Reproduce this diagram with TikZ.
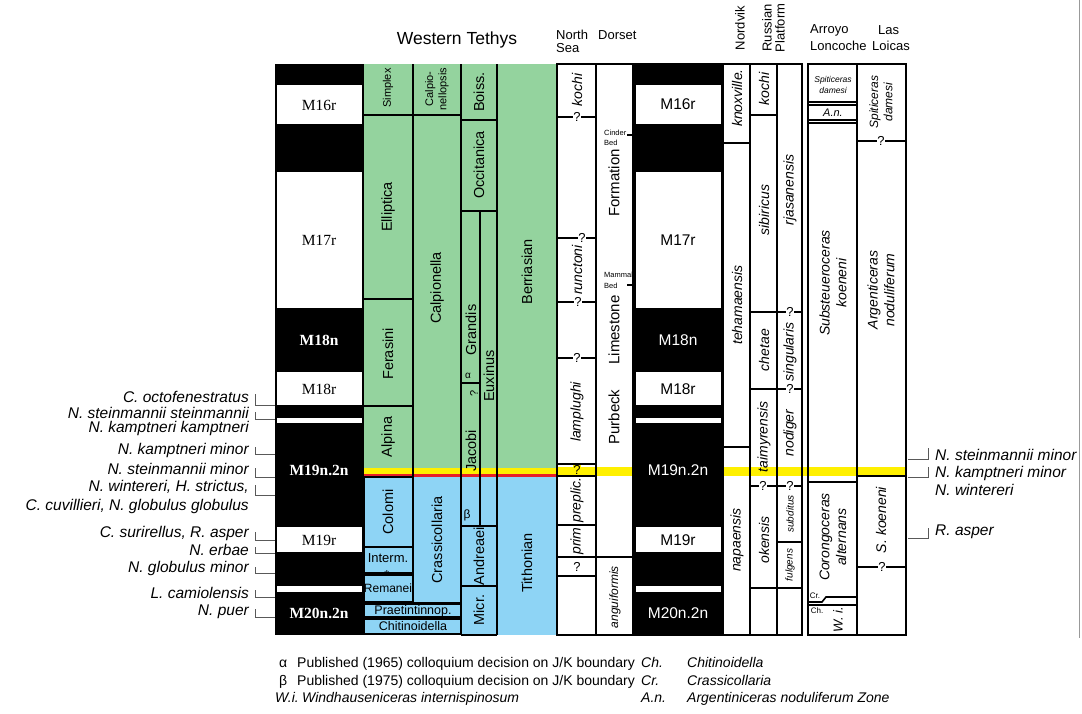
\documentclass[tikz,border=0pt]{standalone}
\usepackage{fontspec}
\setmainfont{Liberation Sans}
\newfontfamily\timesfont{Liberation Serif}
\usetikzlibrary{positioning}

\definecolor{tethysgreen}{RGB}{148,211,158}
\definecolor{tethysblue}{RGB}{142,212,245}
\definecolor{jkyellow}{RGB}{255,240,0}
\definecolor{jkred}{RGB}{232,32,40}

\newcommand{\fsz}[1]{\fontsize{#1}{\dimexpr #1pt*6/5\relax}\selectfont}

\tikzset{
	boxline/.style={line width=1.6pt},
	outline/.style={line width=2pt},
	brkt/.style={line width=0.8pt, black!65},
	zlab/.style={rotate=90, inner sep=0pt, align=center, font=\fsz{14.5}},
	amm/.style={rotate=90, inner sep=0pt, align=center, font=\fsz{14}\itshape},
	chron/.style={inner sep=0pt, font=\timesfont\fsz{15.5}},
	chronb/.style={inner sep=0pt, text=white, font=\timesfont\bfseries\fsz{15.5}},
	chrons/.style={inner sep=0pt, font=\fsz{15.5}},
	qm/.style={fill=white, inner sep=0.5pt, font=\fsz{13}},
	nanno/.style={inner sep=0pt, font=\fsz{15.5}\itshape},
	headtxt/.style={inner sep=0pt, font=\fsz{13}},
	legtxt/.style={inner sep=0pt, anchor=base west, font=\fsz{14}},
}

\begin{document}
\begin{tikzpicture}[x=1pt, y=-1pt]
	\useasboundingbox (0,0) rectangle (1082,713);
	% Fills:
	\fill[tethysgreen] (364,64) rectangle (557,468);
	\fill[tethysblue] (364,477) rectangle (557,635);
	\fill[jkyellow] (364,468) rectangle (557,474);
	\fill[jkred] (364,474) rectangle (557,477);
	\fill[jkyellow] (557,467) rectangle (633,476);
	\fill[jkyellow] (723,467) rectangle (906,476);
	\fill (275,64) rectangle (364,635);
	\fill (633,64) rectangle (723,635);
	\foreach \ya/\yb in {85/124, 172/308, 372/405, 418/423, 527/552, 586/592}{
		\fill[white] (277,\ya) rectangle (362,\yb);
		\fill[white] (636,\ya) rectangle (721,\yb);
	}
	% Western Tethys lines:
	\draw[boxline] (413,64) -- (413,603);
	\draw[boxline] (461,64) -- (461,635);
	\draw[boxline] (497,64) -- (497,635);
	\draw[boxline] (364,115) -- (461,115);
	\draw[boxline] (364,299) -- (413,299);
	\draw[boxline] (364,406) -- (413,406);
	\draw[boxline] (364,477) rectangle (413,547);
	\draw[boxline] (364,547) rectangle (413,573);
	\draw[boxline] (364,575) rectangle (413,602);
	\draw[boxline] (413,603) -- (461,603);
	\draw[boxline] (364,604) rectangle (461,617);
	\draw[boxline] (364,619) rectangle (461,634);
	\draw[boxline] (461,120) -- (497,120);
	\draw[boxline] (461,211) -- (497,211);
	\draw[boxline] (480,211) -- (480,526);
	\draw[boxline] (461,383) -- (480,383);
	\draw[boxline] (461,526) -- (497,526);
	\draw[boxline] (461,586) -- (497,586);
	\draw[boxline] (461,635) -- (497,635);
	% North Sea to Russian Platform:
	\draw[outline] (557,64) rectangle (802,635);
	\foreach \xa in {596, 633, 723, 750, 777}
		\draw[boxline] (\xa,64) -- (\xa,635);
	\foreach \ya in {117, 238, 302, 358, 464, 476, 525, 576}
		\draw[boxline] (557,\ya) -- (596,\ya);
	\draw[boxline] (557,557) -- (633,557);
	\draw[line width=2.2pt] (627,135) -- (633,135);
	\draw[line width=2.2pt] (627,285) -- (633,285);
	\draw[boxline] (723,143) -- (750,143);
	\draw[boxline] (723,447) -- (750,447);
	\draw[boxline] (750,115) -- (777,115);
	\draw[boxline] (750,312) -- (802,312);
	\draw[boxline] (750,389) -- (802,389);
	\draw[boxline] (750,486) -- (802,486);
	\draw[boxline] (777,542) -- (802,542);
	\draw[boxline] (750,588) -- (802,588);
	% Arroyo Loncoche and Las Loicas:
	\draw[outline] (808,64) rectangle (906,635);
	\draw[boxline] (857,64) -- (857,635);
	\draw[line width=1.2pt] (808,102) -- (857,102);
	\draw[line width=1.2pt] (808,105) -- (857,105);
	\draw[line width=1.2pt] (808,120) -- (857,120);
	\draw[line width=1.2pt] (808,123) -- (857,123);
	\draw[boxline] (808,482) -- (857,482);
	\draw[boxline] (857,597) -- (826,597) -- (822,602) -- (808,602);
	\draw[boxline] (808,605) -- (857,605);
	\draw[boxline] (857,141) -- (906,141);
	\draw[boxline] (857,476) -- (906,476);
	\draw[boxline] (857,567) -- (906,567);
	% Question marks:
	\node[qm] (q1) at (577,117) {?};
	\node[qm] (q2) at (582,238) {?};
	\node[qm] (q3) at (578,302) {?};
	\node[qm] (q4) at (577,358) {?};
	\node[qm, fill=jkyellow, inner sep=0pt] (q5) at (577,470) {?};
	\node[qm] (q6) at (577,567) {?};
	\node[qm] (q7) at (763,486) {?};
	\node[qm] (q8) at (790,312) {?};
	\node[qm] (q9) at (790,389) {?};
	\node[qm] (q10) at (790,486) {?};
	\node[qm] (q11) at (881,141) {?};
	\node[qm] (q12) at (882,567) {?};
	% Magnetic chrons:
	\node[chron] (mL16r) at (319,105) {M16r};
	\node[chron] (mL17r) at (319,240) {M17r};
	\node[chronb] (mL18n) at (319,340) {M18n};
	\node[chron] (mL18r) at (319,389) {M18r};
	\node[chronb] (mL19n) at (319,470) {M19n.2n};
	\node[chron] (mL19r) at (319,540) {M19r};
	\node[chronb] (mL20n) at (319,613) {M20n.2n};
	\node[chrons] (mR16r) at (678,104) {M16r};
	\node[chrons] (mR17r) at (678,240) {M17r};
	\node[chrons, text=white] (mR18n) at (678,340) {M18n};
	\node[chrons] (mR18r) at (678,389) {M18r};
	\node[chrons, text=white] (mR19n) at (678,470) {M19n.2n};
	\node[chrons] (mR19r) at (678,540) {M19r};
	\node[chrons, text=white] (mR20n) at (678,613) {M20n.2n};
	% Calpionellid zones:
	\node[zlab, font=\fsz{11}] (zSimplex) at (388,88) {Simplex};
	\node[zlab] (zElliptica) at (388,207) {Elliptica};
	\node[zlab] (zFerasini) at (388,354) {Ferasini};
	\node[zlab] (zAlpina) at (388,437) {Alpina};
	\node[zlab] (zColomi) at (388,512) {Colomi};
	\node[inner sep=0pt, font=\fsz{13}] (zInterm) at (388,558) {Interm.};
	\node[inner sep=0pt, font=\fsz{13}] (zStar) at (387,575) {*};
	\node[inner sep=0pt, font=\fsz{12}] (zRemanei) at (388,588) {Remanei};
	\node[zlab, font=\fsz{11}] (zCalpionellopsis) at (437,89) {Calpio-\\nellopsis};
	\node[zlab] (zCalpionella) at (437,288) {Calpionella};
	\node[zlab] (zCrassicollaria) at (437,540) {Crassicollaria};
	\node[inner sep=0pt, font=\fsz{12.5}] (zPraetintinnop) at (413,611) {Praetintinnop.};
	\node[inner sep=0pt, font=\fsz{12.5}] (zChitinoidella) at (413,626) {Chitinoidella};
	\node[zlab] (zBoiss) at (479,92) {Boiss.};
	\node[zlab] (zOccitanica) at (479,165) {Occitanica};
	\node[zlab] (zGrandis) at (471,330) {Grandis};
	\node[zlab] (zEuxinus) at (489,376) {Euxinus};
	\node[inner sep=0pt, font=\fsz{10}] (zAlpha) at (468,376) {α};
	\node[zlab, font=\fsz{11}] (zQuery) at (474,393) {?};
	\node[zlab] (zJacobi) at (471,451) {Jacobi};
	\node[inner sep=0pt, font=\fsz{12}] (zBeta) at (467,515) {β};
	\node[zlab] (zAndreaei) at (479,556) {Andreaei};
	\node[zlab] (zMicr) at (479,610) {Micr.};
	\node[zlab] (zBerriasian) at (527,272) {Berriasian};
	\node[zlab] (zTithonian) at (527,563) {Tithonian};
	% Dorset:
	\node[zlab, font=\fsz{15}] (dFormation) at (614,183) {Formation};
	\node[zlab, font=\fsz{15}] (dLimestone) at (614,330) {Limestone};
	\node[zlab, font=\fsz{15}] (dPurbeck) at (614,417) {Purbeck};
	\node[inner sep=0pt, anchor=west, font=\fsz{7.5}] (dCinder) at (604,133) {Cinder};
	\node[inner sep=0pt, anchor=west, font=\fsz{7.5}] (dCinderBed) at (604,143) {Bed};
	\node[inner sep=0pt, anchor=west, font=\fsz{7.5}] (dMammal) at (604,275) {Mammal};
	\node[inner sep=0pt, anchor=west, font=\fsz{7.5}] (dMammalBed) at (604,286) {Bed};
	\node[amm, font=\fsz{12}\itshape] (dAnguiformis) at (615,597) {anguiformis};
	% Boreal ammonite zones:
	\node[amm] (nKochi) at (577,90) {kochi};
	\node[amm] (nRunctoni) at (577,270) {runctoni};
	\node[amm] (nLamplughi) at (577,412) {lamplughi};
	\node[amm] (nPreplic) at (577,500) {preplic.};
	\node[amm] (nPrim) at (577,541) {prim};
	\node[amm] (vKnoxville) at (737,98) {knoxville.};
	\node[amm] (vTehamaensis) at (737,305) {tehamaensis};
	\node[amm] (vNapaensis) at (737,540) {napaensis};
	\node[amm] (rKochi) at (764,89) {kochi};
	\node[amm] (rSibiricus) at (764,210) {sibiricus};
	\node[amm] (rChetae) at (764,350) {chetae};
	\node[amm] (rTaimyrensis) at (764,437) {taimyrensis};
	\node[amm] (rOkensis) at (764,540) {okensis};
	\node[amm] (pRjasanensis) at (790,190) {rjasanensis};
	\node[amm] (pSingularis) at (790,352) {singularis};
	\node[amm] (pNodiger) at (790,433) {nodiger};
	\node[amm, font=\fsz{10}\itshape] (pSubditus) at (790,514) {subditus};
	\node[amm, font=\fsz{10}\itshape] (pFulgens) at (790,565) {fulgens};
	% Andean ammonite zones:
	\node[inner sep=0pt, align=center, font=\fsz{8.5}\itshape] (aSpiticeras) at (833,85) {Spiticeras\\damesi};
	\node[inner sep=0pt, font=\fsz{11}\itshape] (aAn) at (833,113) {A.n.};
	\node[amm] (aSubsteueroceras) at (833,283) {Substeueroceras\\koeneni};
	\node[amm] (aCorongoceras) at (833,537) {Corongoceras\\alternans};
	\node[inner sep=0pt, font=\fsz{8}] (aCr) at (815,596) {Cr.};
	\node[inner sep=0pt, font=\fsz{8}] (aCh) at (817,611) {Ch.};
	\node[amm, font=\fsz{13}\itshape] (aWi) at (838,620) {W. i.};
	\node[amm, font=\fsz{12}\itshape] (lSpiticeras) at (881,102) {Spiticeras\\damesi};
	\node[amm] (lArgenticeras) at (881,290) {Argenticeras\\noduliferum};
	\node[amm] (lKoeneni) at (881,520) {S. koeneni};
	% Headers:
	\node[inner sep=0pt, font=\fsz{17.5}] (hTethys) at (457,40) {Western Tethys};
	\node[headtxt, anchor=west] (hNorth) at (556,35) {North};
	\node[headtxt, anchor=west] (hSea) at (556,48) {Sea};
	\node[headtxt, anchor=west] (hDorset) at (598,35) {Dorset};
	\node[headtxt, rotate=90] (hNordvik) at (740,28) {Nordvik};
	\node[headtxt, rotate=90] (hRussian) at (767,28) {Russian};
	\node[headtxt, rotate=90] (hPlatform) at (780,28) {Platform};
	\node[headtxt, anchor=west] (hArroyo) at (810,30) {Arroyo};
	\node[headtxt, anchor=west] (hLoncoche) at (810,46) {Loncoche};
	\node[headtxt, anchor=west] (hLas) at (878,30) {Las};
	\node[headtxt, anchor=west] (hLoicas) at (872,46) {Loicas};
	% Nannofossil events:
	\foreach \ya/\yb in {394/405, 412/419, 447/454, 468/477, 485/495, 532/540, 547/553, 567/573, 590/597, 609/617}
		\draw[brkt] (255,\ya) |- (275,\yb);
	\foreach \ya/\yb in {448/459, 467/477, 528/538}
		\draw[brkt] (928,\ya) |- (908,\yb);
	\node[nanno, anchor=east] (e1) at (249,397) {C. octofenestratus};
	\node[nanno, anchor=east] (e2) at (249,413) {N. steinmannii steinmannii};
	\node[nanno, anchor=east] (e3) at (249,428) {N. kamptneri kamptneri};
	\node[nanno, anchor=east] (e4) at (249,450) {N. kamptneri minor};
	\node[nanno, anchor=east] (e5) at (249,469) {N. steinmannii minor};
	\node[nanno, anchor=east] (e6) at (249,487) {N. wintereri, H. strictus,};
	\node[nanno, anchor=east] (e7) at (249,506) {C. cuvillieri, N. globulus globulus};
	\node[nanno, anchor=east] (e8) at (249,533) {C. surirellus, R. asper};
	\node[nanno, anchor=east] (e9) at (249,550) {N. erbae};
	\node[nanno, anchor=east] (e10) at (249,568) {N. globulus minor};
	\node[nanno, anchor=east] (e11) at (249,593) {L. camiolensis};
	\node[nanno, anchor=east] (e12) at (249,612) {N. puer};
	\node[nanno, anchor=west] (e13) at (935,455) {N. steinmannii minor};
	\node[nanno, anchor=west] (e14) at (935,473) {N. kamptneri minor};
	\node[nanno, anchor=west] (e15) at (935,490) {N. wintereri};
	\node[nanno, anchor=west] (e16) at (935,532) {R. asper};
	\draw[black!40, line width=0.8pt] (1079,0) -- (1079,638);
	% Legend:
	\node[legtxt] (kAlpha) at (279,667) {α};
	\node[legtxt] (kAlphaTxt) at (297,667) {Published (1965) colloquium decision on J/K boundary};
	\node[legtxt] (kBeta) at (279,685) {β};
	\node[legtxt] (kBetaTxt) at (297,685) {Published (1975) colloquium decision on J/K boundary};
	\node[legtxt, font=\fsz{14}\itshape] (kWi) at (275,702) {W.i.};
	\node[legtxt, font=\fsz{14}\itshape] (kWiTxt) at (302,702) {Windhauseniceras internispinosum};
	\node[legtxt, font=\fsz{14}\itshape] (kCh) at (641,667) {Ch.};
	\node[legtxt, font=\fsz{14}\itshape] (kChTxt) at (687,667) {Chitinoidella};
	\node[legtxt, font=\fsz{14}\itshape] (kCr) at (641,685) {Cr.};
	\node[legtxt, font=\fsz{14}\itshape] (kCrTxt) at (687,685) {Crassicollaria};
	\node[legtxt, font=\fsz{14}\itshape] (kAn) at (641,702) {A.n.};
	\node[legtxt, font=\fsz{14}\itshape] (kAnTxt) at (687,702) {Argentiniceras noduliferum Zone};
\end{tikzpicture}
\end{document}
